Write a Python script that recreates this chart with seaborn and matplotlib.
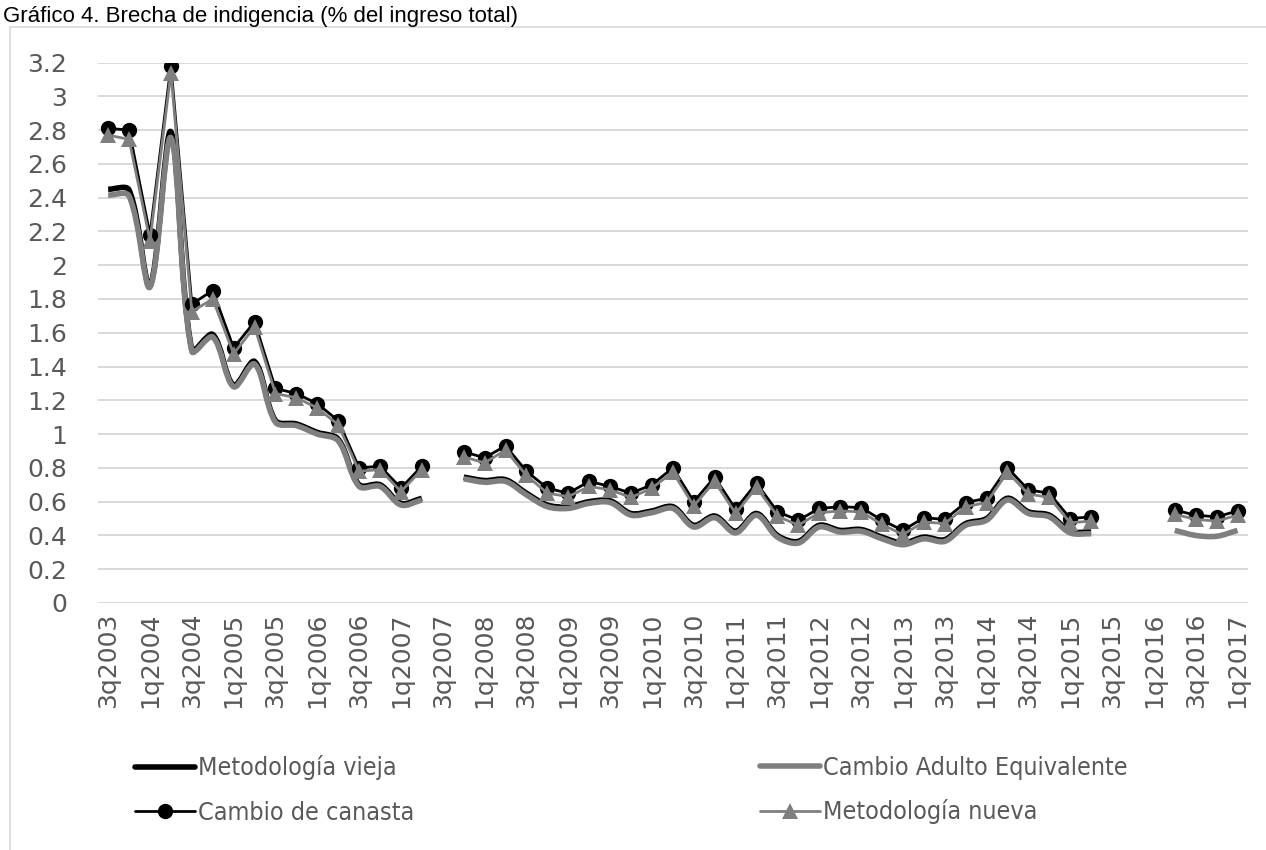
import numpy as np
import pandas as pd
import matplotlib
matplotlib.use("Agg")
import matplotlib.pyplot as plt
from matplotlib.path import Path
from matplotlib.patches import PathPatch, Rectangle
from matplotlib.lines import Line2D
from matplotlib.font_manager import FontProperties
import seaborn as sns

nan = np.nan

quarters = []
for year in range(2003, 2018):
    for q in range(1, 5):
        if (year == 2003 and q < 3) or (year == 2017 and q > 1):
            continue
        quarters.append(f"{q}q{year}")

vieja = [2.45, 2.445, 1.88, 2.79, 1.50, 1.59, 1.29, 1.43, 1.08, 1.06, 1.01, 0.97,
         0.70, 0.70, 0.59, 0.62, nan, 0.745, 0.725, 0.73, 0.65, 0.58, 0.57, 0.60,
         0.605, 0.53, 0.545, 0.57, 0.46, 0.515, 0.425, 0.53, 0.40, 0.365, 0.46, 0.43,
         0.435, 0.39, 0.355, 0.39, 0.375, 0.47, 0.50, 0.62, 0.54, 0.52, 0.425, 0.42,
         nan, nan, nan, nan, nan, nan, nan]

adulto_eq = [2.415, 2.41, 1.87, 2.755, 1.49, 1.575, 1.28, 1.415, 1.07, 1.05, 1.00, 0.96,
             0.69, 0.69, 0.58, 0.61, nan, 0.735, 0.715, 0.72, 0.64, 0.57, 0.56, 0.59,
             0.595, 0.52, 0.535, 0.56, 0.45, 0.505, 0.415, 0.52, 0.39, 0.355, 0.45, 0.42,
             0.425, 0.38, 0.345, 0.38, 0.365, 0.46, 0.49, 0.61, 0.53, 0.51, 0.415, 0.41,
             nan, nan, nan, 0.43, 0.40, 0.395, 0.43]

canasta = [2.81, 2.80, 2.18, 3.18, 1.77, 1.85, 1.51, 1.665, 1.27, 1.24, 1.18, 1.08,
           0.80, 0.81, 0.68, 0.81, nan, 0.895, 0.86, 0.93, 0.78, 0.68, 0.65, 0.72,
           0.69, 0.65, 0.70, 0.80, 0.60, 0.745, 0.555, 0.71, 0.54, 0.49, 0.56, 0.57,
           0.565, 0.49, 0.43, 0.505, 0.495, 0.595, 0.62, 0.80, 0.67, 0.65, 0.50, 0.51,
           nan, nan, nan, 0.55, 0.52, 0.51, 0.545]

nueva = [2.77, 2.745, 2.145, 3.14, 1.725, 1.80, 1.475, 1.635, 1.24, 1.215, 1.155, 1.055,
         0.78, 0.79, 0.66, 0.79, nan, 0.865, 0.83, 0.905, 0.755, 0.65, 0.63, 0.69,
         0.67, 0.625, 0.68, 0.775, 0.575, 0.72, 0.53, 0.685, 0.515, 0.46, 0.535, 0.545,
         0.54, 0.465, 0.405, 0.48, 0.47, 0.57, 0.595, 0.775, 0.645, 0.625, 0.475, 0.485,
         nan, nan, nan, 0.525, 0.495, 0.485, 0.52]

labels = ["Metodología vieja", "Cambio Adulto Equivalente",
          "Cambio de canasta", "Metodología nueva"]

BLACK = "#000000"
GRAY = "#7f7f7f"
TXT = "#595959"


def smooth_path(y, sx, sy):
    # Excel-like smoothed line (length weighted catmull-rom), broken at gaps.
    # sx, sy: pixels per data unit, only used to weight the control points
    y = np.asarray(y, float)
    x = np.arange(len(y), dtype=float)
    idx = np.where(~np.isnan(y))[0]
    runs = np.split(idx, np.where(np.diff(idx) > 1)[0] + 1)
    verts, codes = [], []
    for run in runs:
        p = np.column_stack([x[run], y[run]])
        n = len(p)
        verts.append(tuple(p[0]))
        codes.append(Path.MOVETO)
        if n < 2:
            continue
        d = np.hypot(np.diff(p[:, 0]) * sx, np.diff(p[:, 1]) * sy)
        tang = []
        for i in range(n):
            a, b = max(i - 1, 0), min(i + 1, n - 1)
            tang.append(p[b] - p[a])
        for i in range(n - 1):
            dl = d[i - 1] if i > 0 else 0.0
            dr = d[i + 1] if i + 1 < n - 1 else 0.0
            c1 = p[i] + tang[i] * d[i] / (dl + d[i]) / 3
            c2 = p[i + 1] - tang[i + 1] * d[i] / (d[i] + dr) / 3
            verts += [tuple(c1), tuple(c2), tuple(p[i + 1])]
            codes += [Path.CURVE4] * 3
    return Path(verts, codes)


def to_frame(y):
    y = np.asarray(y, float)
    df = pd.DataFrame({"pos": np.arange(len(y)), "val": y})
    df["seg"] = np.isnan(y).cumsum()
    return df.dropna()


sns.set_theme(style="white")
plt.rcParams["font.family"] = ["DejaVu Sans"]

W, H = 1266, 850
fig = plt.figure(figsize=(W / 100, H / 100), dpi=100)
x0, x1, ytop, ybot = 97.7, 1248, 62.5, 603
ax = fig.add_axes([x0 / W, 1 - ybot / H, (x1 - x0) / W, (ybot - ytop) / H])

n = len(quarters)
ymax = 3.2
sx = (x1 - x0) / n
sy = (ybot - ytop) / ymax

# thick smoothed lines
ax.add_patch(PathPatch(smooth_path(vieja, sx, sy), facecolor="none", edgecolor=BLACK,
                       lw=4.0, zorder=2, capstyle="butt", joinstyle="round"))
ax.add_patch(PathPatch(smooth_path(adulto_eq, sx, sy), facecolor="none", edgecolor=GRAY,
                       lw=4.0, zorder=3, capstyle="butt", joinstyle="round"))

# marker series
sns.lineplot(data=to_frame(canasta), x="pos", y="val", units="seg", estimator=None,
             color=BLACK, lw=2.0, marker="o", markersize=11, markeredgewidth=0,
             ax=ax, zorder=4, legend=False)
sns.lineplot(data=to_frame(nueva), x="pos", y="val", units="seg", estimator=None,
             color=GRAY, lw=2.0, marker="^", markersize=11, markeredgewidth=0,
             ax=ax, zorder=5, legend=False)

ax.set_xlim(-0.5, n - 0.5)
ax.set_ylim(0, ymax)
yt = np.round(np.arange(0, 3.21, 0.2), 1)
ax.set_yticks(yt)
ax.set_yticklabels([f"{v:g}" for v in yt])
ax.set_xticks(range(0, n, 2))
ax.set_xticklabels(quarters[::2], rotation=90)
ax.tick_params(axis="y", length=0, pad=22, labelsize=18, labelcolor=TXT)
ax.tick_params(axis="x", length=0, pad=7, labelsize=18, labelcolor=TXT)
ax.set_xlabel("")
ax.set_ylabel("")
ax.yaxis.grid(True, color="#d9d9d9", lw=1.4)
ax.set_axisbelow(True)
for s in ax.spines.values():
    s.set_visible(False)

# chart border
fig.patches.append(Rectangle((10 / W, -0.1), 1.2, 1.1 - 27 / H, transform=fig.transFigure,
                             fill=False, edgecolor="#d9d9d9", lw=1.2))

fig.text(0.002, 1 - 22 / H, "Gráfico 4. Brecha de indigencia (% del ingreso total)",
         family="Liberation Sans", fontsize=16, color="black", va="baseline", ha="left")

# legend
fp = FontProperties(family="DejaVu Sans", stretch="condensed", size=18)
h_vieja = Line2D([], [], color=BLACK, lw=4.0)
h_ae = Line2D([], [], color=GRAY, lw=4.0)
h_can = Line2D([], [], color=BLACK, lw=2.0, marker="o", markersize=11, markeredgewidth=0)
h_nue = Line2D([], [], color=GRAY, lw=2.0, marker="^", markersize=11, markeredgewidth=0)
common = dict(frameon=False, prop=fp, labelcolor=TXT, borderpad=0, borderaxespad=0,
              handlelength=2.4, handletextpad=0.1, labelspacing=0.8, loc="center left")
leg1 = fig.legend([h_vieja, h_can], [labels[0], labels[2]],
                  bbox_to_anchor=(135 / W, 1 - 790 / H), **common)
leg2 = fig.legend([h_ae, h_nue], [labels[1], labels[3]],
                  bbox_to_anchor=(760 / W, 1 - 790 / H), **common)

fig.savefig("out.png", dpi=100)
